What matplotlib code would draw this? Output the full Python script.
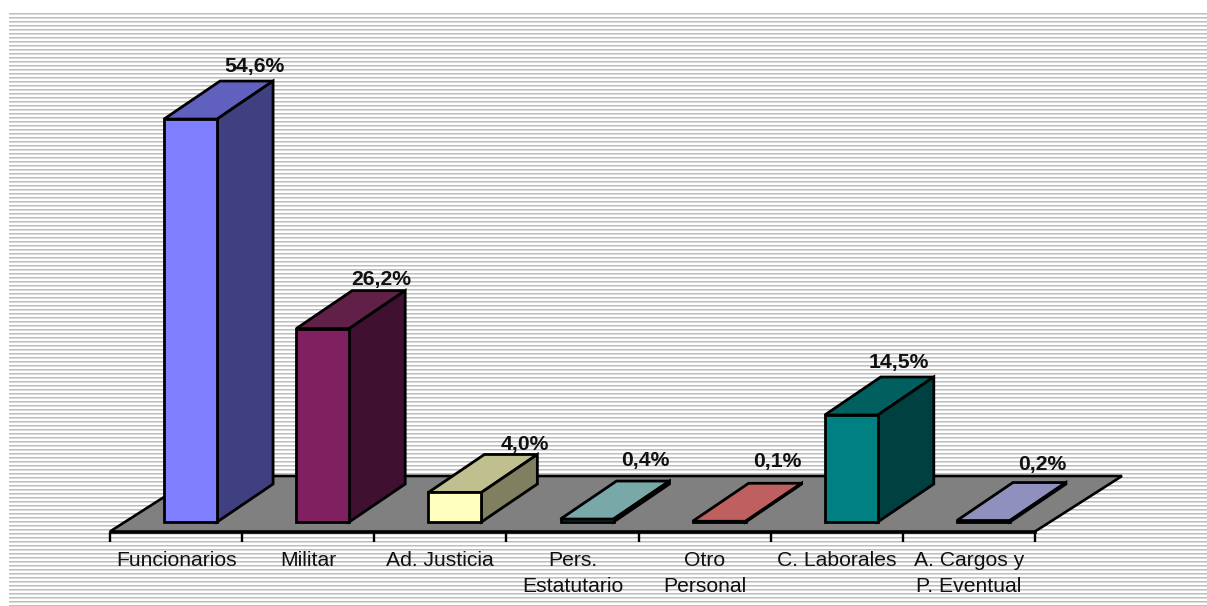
import numpy as np
import matplotlib
matplotlib.use("Agg")
import matplotlib.pyplot as plt
from matplotlib.patches import Polygon

categories = ["Funcionarios", "Militar", "Ad. Justicia", "Pers.\nEstatutario",
              "Otro\nPersonal", "C. Laborales", "A. Cargos y\nP. Eventual"]
values = [54.6, 26.2, 4.0, 0.4, 0.1, 14.5, 0.2]
value_labels = ["54,6%", "26,2%", "4,0%", "0,4%", "0,1%", "14,5%", "0,2%"]
front_colors = ["#8080FF", "#802060", "#FFFFC0", "#A0E0E0", "#FF8080", "#008080", "#C0C0FF"]
top_colors = ["#6060BF", "#602048", "#BFBF90", "#78A8A8", "#BF6060", "#006060", "#9090BF"]
side_colors = ["#404080", "#401030", "#808060", "#507070", "#804040", "#004040", "#606080"]
label_nudge_x = [63.5, 58.5, 69.5, 58, 58, 48, 58.6]
label_nudge_y = [53, 49, 48, 59, 60, 52, 56.5]

W, H = 1207, 606
plt.rcParams["font.family"] = ["Liberation Sans", "DejaVu Sans"]
fig = plt.figure(figsize=(W / 100, H / 100), dpi=100, facecolor="white")

# striped wall
bg = fig.add_axes([9 / W, 0, (W - 9) / W, (H - 13) / H])
rows = H - 13
stripes = np.ones((rows, 4))
phase = np.arange(rows) % 4
stripes[phase == 0] = 0.74
stripes[phase == 1] = 0.86
bg.imshow(stripes, cmap="gray", vmin=0, vmax=1, aspect="auto", interpolation="nearest")
bg.axis("off")

# plot axes in pixel-aligned position
left, right, axis_y = 110, 1035, 531.5
ppx = (right - left) / 7          # pixels per category
ppy = 7.38                        # pixels per percent
base_y = 522
ax = fig.add_axes([left / W, (H - axis_y) / H, (right - left) / W, axis_y / H])
ax.set_xlim(0, 7)
ax.set_ylim(-(axis_y - base_y) / ppy, base_y / ppy)
ax.patch.set_visible(False)
for s in ("left", "right", "top"):
    ax.spines[s].set_visible(False)
ax.spines["bottom"].set_linewidth(1.9)
ax.spines["bottom"].set_color("black")
ax.set_yticks([])
ax.set_xticks(np.arange(8))
ax.set_xticklabels([])
ax.tick_params(axis="x", which="major", length=7, width=1.7, color="black")
ax.set_xticks(np.arange(7) + 0.5, minor=True)
ax.set_xticklabels(categories, minor=True, fontsize=15.2, color="#111111", linespacing=1.46)
ax.tick_params(axis="x", which="minor", length=0, pad=14)

LW = 2.0
y0 = -(axis_y - base_y) / ppy
floor_dx, floor_dy = 87 / ppx, 55.5 / ppy
floor = Polygon([(0, y0), (7, y0), (7 + floor_dx, y0 + floor_dy), (floor_dx, y0 + floor_dy)],
                closed=True, facecolor="#808080", edgecolor="black", lw=1.9,
                joinstyle="miter", clip_on=False, zorder=1)
ax.add_patch(floor)

bar_w = 53 / ppx
x_shift = 14.5 / ppx
xs = np.arange(7) + 0.5 + x_shift
dx, dy = 56 / ppx, 38 / ppy
for i, (x, v) in enumerate(zip(xs, values)):
    xl, xr = x - bar_w / 2, x + bar_w / 2
    ax.add_patch(Polygon([(xl, v), (xr, v), (xr + dx, v + dy), (xl + dx, v + dy)],
                         closed=True, facecolor=top_colors[i], edgecolor="black", lw=LW,
                         joinstyle="miter", clip_on=False, zorder=2 + i))
    ax.add_patch(Polygon([(xr, 0), (xr + dx, dy), (xr + dx, v + dy), (xr, v)],
                         closed=True, facecolor=side_colors[i], edgecolor="black", lw=LW,
                         joinstyle="miter", clip_on=False, zorder=2 + i))
    ax.bar([x], [v], width=bar_w, color=front_colors[i], edgecolor="black", linewidth=LW,
           clip_on=False, zorder=2.5 + i)
    ax.annotate(value_labels[i], xy=(x, v), xytext=(label_nudge_x[i], label_nudge_y[i]),
                textcoords="offset pixels", ha="center", va="center",
                fontsize=15.2, fontweight="bold", color="#111111", zorder=20,
                annotation_clip=False)

fig.savefig("out.png", dpi=100, facecolor="white")
